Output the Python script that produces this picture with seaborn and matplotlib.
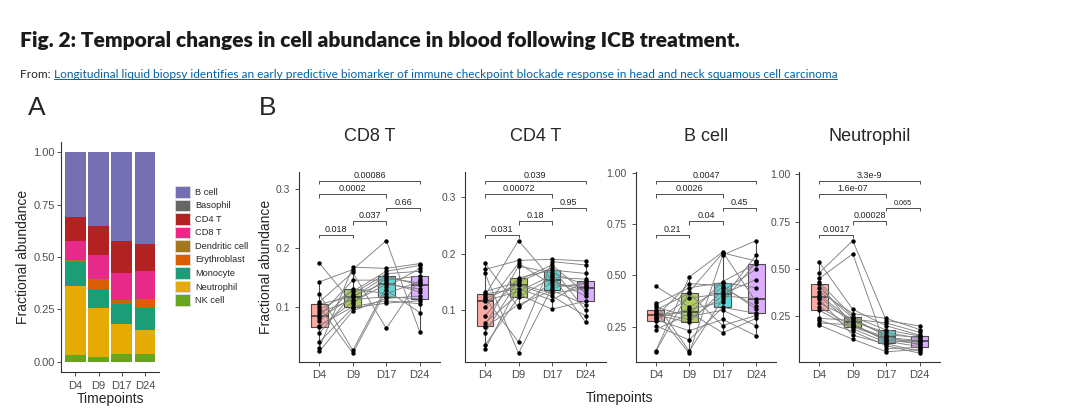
import numpy as np
import pandas as pd
import matplotlib
matplotlib.use("Agg")
import matplotlib.pyplot as plt
from matplotlib import font_manager
from matplotlib.patches import Patch
from matplotlib.lines import Line2D
import seaborn as sns

# ---------------- data ----------------
timepoints = ["D4", "D9", "D17", "D24"]

# Panel A: mean fractional abundance per timepoint
cell_types = ["B cell", "Basophil", "CD4 T", "CD8 T", "Dendritic cell",
              "Erythroblast", "Monocyte", "Neutrophil", "NK cell"]
frac_D4 = [0.308, 0.000, 0.116, 0.091, 0.011, 0.000, 0.114, 0.331, 0.029]
frac_D9 = [0.352, 0.000, 0.139, 0.113, 0.007, 0.043, 0.091, 0.233, 0.022]
frac_D17 = [0.426, 0.000, 0.150, 0.132, 0.007, 0.012, 0.094, 0.144, 0.035]
frac_D24 = [0.440, 0.000, 0.129, 0.131, 0.007, 0.039, 0.102, 0.117, 0.035]
cell_colors = ["#7570B3", "#666666", "#B22222", "#E7298A", "#A6761D",
               "#D95F02", "#1B9E77", "#E6AB02", "#66A61E"]

# Panel B: per-patient values (same patient order in each list)
cd8_D4 = [0.174, 0.142, 0.122, 0.108, 0.104, 0.100, 0.095, 0.090, 0.084, 0.080, 0.075, 0.068, 0.066, 0.055, 0.040, 0.030, 0.024]
cd8_D9 = [0.105, 0.163, 0.026, 0.158, 0.118, 0.021, 0.126, 0.112, 0.145, 0.116, 0.130, 0.100, 0.108, 0.122, 0.098, 0.167, 0.093]
cd8_D17 = [0.149, 0.212, 0.133, 0.063, 0.141, 0.128, 0.160, 0.117, 0.145, 0.152, 0.122, 0.110, 0.138, 0.156, 0.106, 0.165, 0.114]
cd8_D24 = [0.140, 0.057, 0.165, 0.147, 0.125, 0.090, 0.170, 0.113, 0.152, 0.136, 0.143, 0.105, 0.130, 0.160, 0.110, 0.173, 0.118]

cd4_D4 = [0.183, 0.172, 0.165, 0.133, 0.129, 0.126, 0.122, 0.120, 0.117, 0.105, 0.090, 0.078, 0.073, 0.070, 0.060, 0.038, 0.031]
cd4_D9 = [0.105, 0.188, 0.024, 0.150, 0.138, 0.223, 0.044, 0.146, 0.133, 0.183, 0.157, 0.128, 0.178, 0.110, 0.153, 0.123, 0.144]
cd4_D17 = [0.150, 0.190, 0.140, 0.175, 0.118, 0.154, 0.186, 0.130, 0.162, 0.145, 0.171, 0.102, 0.166, 0.135, 0.180, 0.158, 0.125]
cd4_D24 = [0.135, 0.187, 0.148, 0.100, 0.151, 0.125, 0.180, 0.139, 0.079, 0.142, 0.165, 0.116, 0.145, 0.110, 0.130, 0.155, 0.090]

bcell_D4 = [0.448, 0.365, 0.358, 0.345, 0.331, 0.325, 0.318, 0.312, 0.307, 0.298, 0.290, 0.285, 0.279, 0.255, 0.235, 0.130, 0.128]
bcell_D9 = [0.345, 0.130, 0.440, 0.300, 0.413, 0.120, 0.285, 0.320, 0.271, 0.460, 0.335, 0.230, 0.390, 0.185, 0.312, 0.492, 0.420]
bcell_D17 = [0.440, 0.385, 0.465, 0.330, 0.255, 0.600, 0.400, 0.220, 0.425, 0.450, 0.370, 0.285, 0.410, 0.344, 0.470, 0.615, 0.610]
bcell_D24 = [0.350, 0.600, 0.440, 0.255, 0.305, 0.670, 0.387, 0.290, 0.530, 0.335, 0.565, 0.205, 0.480, 0.315, 0.557, 0.370, 0.570]

neut_D4 = [0.535, 0.480, 0.450, 0.430, 0.420, 0.400, 0.380, 0.365, 0.353, 0.340, 0.320, 0.300, 0.283, 0.240, 0.230, 0.215, 0.204]
neut_D9 = [0.287, 0.650, 0.580, 0.248, 0.200, 0.240, 0.265, 0.222, 0.212, 0.150, 0.235, 0.195, 0.185, 0.228, 0.170, 0.205, 0.129]
neut_D17 = [0.200, 0.228, 0.080, 0.178, 0.139, 0.145, 0.239, 0.165, 0.118, 0.105, 0.215, 0.132, 0.111, 0.152, 0.095, 0.125, 0.063]
neut_D24 = [0.150, 0.199, 0.085, 0.146, 0.121, 0.098, 0.180, 0.133, 0.090, 0.065, 0.165, 0.113, 0.127, 0.140, 0.055, 0.105, 0.075]

comparisons = [(0, 1), (1, 2), (2, 3), (0, 2), (0, 3)]
cd8_pvals = ["0.018", "0.037", "0.66", "0.0002", "0.00086"]
cd4_pvals = ["0.031", "0.18", "0.95", "0.00072", "0.039"]
bcell_pvals = ["0.21", "0.04", "0.45", "0.0026", "0.0047"]
neut_pvals = ["0.0017", "0.00028", "0.065", "1.6e-07", "3.3e-9"]

box_colors = ["#F8766D", "#7CAE00", "#00BFC4", "#C77CFF"]

# ---------------- style ----------------
sns.set_style("ticks")
plt.rcParams["font.family"] = ["Liberation Sans", "DejaVu Sans"]
plt.rcParams["axes.linewidth"] = 0.8
plt.rcParams["axes.edgecolor"] = "#333333"
plt.rcParams["xtick.color"] = "#333333"
plt.rcParams["ytick.color"] = "#333333"
plt.rcParams["xtick.labelcolor"] = "#4D4D4D"
plt.rcParams["ytick.labelcolor"] = "#4D4D4D"
plt.rcParams["xtick.major.size"] = 2.8
plt.rcParams["ytick.major.size"] = 2.8
plt.rcParams["xtick.major.width"] = 0.6
plt.rcParams["ytick.major.width"] = 0.6

W, H = 1080, 415
fig = plt.figure(figsize=(W / 100, H / 100), dpi=100)


def ax_px(left, top, width, height):
    return fig.add_axes([left / W, 1 - (top + height) / H, width / W, height / H])


def blend(c, a=0.62):
    rgb = np.array(matplotlib.colors.to_rgb(c))
    return tuple(rgb * a + (1 - a))


box_fills = [blend(c) for c in box_colors]

names = {f.name for f in font_manager.fontManager.ttflist}
if "Liberation Sans Narrow" in names:
    head_family = "Liberation Sans Narrow"
elif "Lato" in names:
    head_family = "Lato"
else:
    head_family = "Liberation Sans"

# ---------------- header ----------------
renderer = fig.canvas.get_renderer()
t_title = fig.text(20 / W, 1 - 41 / H,
                   "Fig. 2: Temporal changes in cell abundance in blood following ICB treatment.",
                   fontsize=14, fontweight="heavy", family=head_family, color="#1A1A1A",
                   ha="left", va="center")
w = t_title.get_window_extent(renderer).width
t_title.set_fontsize(14 * 718 / w)

t_from = fig.text(20 / W, 1 - 75 / H, "From: ", fontsize=9, family=head_family,
                  color="#222222", ha="left", va="center")
link = ("Longitudinal liquid biopsy identifies an early predictive biomarker of immune "
        "checkpoint blockade response in head and neck squamous cell carcinoma")
t_link = fig.text(0, 1 - 75 / H, link, fontsize=9, family=head_family,
                  color="#0A5F9E", ha="left", va="center")
w1 = t_from.get_window_extent(renderer).width
w2 = t_link.get_window_extent(renderer).width
fs = 9 * 823 / (w1 + w2)
t_from.set_fontsize(fs)
t_link.set_fontsize(fs)
w1 = t_from.get_window_extent(renderer).width
t_link.set_x((20 + w1) / W)
bb = t_link.get_window_extent(renderer)
uy = bb.y0 + 0.12 * fs * 100 / 72
fig.add_artist(Line2D([bb.x0 / W, bb.x1 / W], [uy / H, uy / H], transform=fig.transFigure,
                      color="#0A5F9E", lw=0.7))

# ---------------- panel A ----------------
fig.text(37 / W, 1 - 108 / H, "A", fontsize=19, ha="center", va="center")
fig.text(268 / W, 1 - 108 / H, "B", fontsize=19, ha="center", va="center")

axA = ax_px(61.4, 141.7, 97.5, 230.3)
rowsA = []
for i, fr in enumerate([frac_D4, frac_D9, frac_D17, frac_D24]):
    for c, v in zip(cell_types, fr):
        rowsA.append(dict(xi=i, cell=c, frac=v))
dfA = pd.DataFrame(rowsA)
sns.histplot(data=dfA, x="xi", weights="frac", hue="cell", hue_order=cell_types,
             palette=cell_colors, multiple="stack", discrete=True, shrink=0.9,
             alpha=1, linewidth=0, legend=False, ax=axA)
axA.set_xlim(-0.6, 3.6)
axA.set_ylim(-0.05, 1.05)
axA.set_xticks(range(4))
axA.set_xticklabels(timepoints, fontsize=8)
axA.set_yticks([0, 0.25, 0.5, 0.75, 1.0])
axA.set_yticklabels(["0.00", "0.25", "0.50", "0.75", "1.00"], fontsize=8)
axA.tick_params(axis="y", pad=2)
axA.set_xlabel("Timepoints", fontsize=10)
axA.set_ylabel("Fractional abundance", fontsize=10)
axA.yaxis.set_label_coords(-0.318, 0.5)
axA.xaxis.set_label_coords(0.5, -0.085)
sns.despine(ax=axA)

handles = [Patch(facecolor=c, edgecolor="#DDDDDD", linewidth=0.6, label=l)
           for c, l in zip(cell_colors, cell_types)]
fig.legend(handles=handles, loc="upper left",
           bbox_to_anchor=(175 / W, 1 - 186 / H), frameon=False, fontsize=6.7,
           handlelength=1.6, handleheight=1.55, handletextpad=0.55,
           labelspacing=0.2, borderpad=0, borderaxespad=0)


# ---------------- panel B ----------------
def draw_panel(left, title, values, pvals, yticks, yticklabels, ylabel=False, small=()):
    ax = ax_px(left, 171.7, 140.7, 190)
    rows = []
    for t_i, t in enumerate(timepoints):
        for p, v in enumerate(values[t_i]):
            rows.append(dict(tp=t, xi=t_i, patient=p, value=v))
    df = pd.DataFrame(rows)
    sns.boxplot(data=df, x="tp", y="value", hue="tp", order=timepoints,
                hue_order=timepoints, palette=box_fills, saturation=1, width=0.5,
                showfliers=False, linewidth=0.8, linecolor="#4D4D4D",
                legend=False, showcaps=False,
                medianprops=dict(linewidth=1.1, color="#333333"), ax=ax)
    sns.lineplot(data=df, x="xi", y="value", units="patient", estimator=None,
                 color="#808080", linewidth=0.65, legend=False, ax=ax, zorder=3)
    sns.scatterplot(data=df, x="xi", y="value", color="black", s=10, linewidth=0,
                    legend=False, ax=ax, zorder=4)
    vmax, vmin = df.value.max(), df.value.min()
    rng = vmax - vmin
    lo, hi = vmin - 0.075 * rng, vmax + 0.612 * rng
    tip = 0.018 * (hi - lo)
    for k, ((i, j), lab) in enumerate(zip(comparisons, pvals)):
        y = vmax + rng * (0.05 + 0.12 * k)
        ax.plot([i, i, j, j], [y - tip, y, y, y - tip], color="#333333", lw=0.6,
                solid_capstyle="butt", zorder=5)
        ax.text((i + j) / 2, y + 0.006 * (hi - lo), lab, ha="center", va="bottom",
                fontsize=5.2 if lab in small else 6.5, color="#222222")
    ax.set_xlim(-0.6, 3.6)
    ax.set_ylim(lo, hi)
    ax.set_xticks(range(4))
    ax.set_xticklabels(timepoints, fontsize=8)
    ax.set_yticks(yticks)
    ax.set_yticklabels(yticklabels, fontsize=7.5)
    ax.set_xlabel("")
    if ylabel:
        ax.set_ylabel("Fractional abundance", fontsize=10)
        ax.yaxis.set_label_coords(-0.186, 0.5)
    else:
        ax.set_ylabel("")
    ax.text(0.5, 1.183, title, transform=ax.transAxes, ha="center", va="center",
            fontsize=13)
    sns.despine(ax=ax)
    return ax


draw_panel(299.2, "CD8 T", [cd8_D4, cd8_D9, cd8_D17, cd8_D24], cd8_pvals,
           [0.1, 0.2, 0.3], ["0.1", "0.2", "0.3"], ylabel=True)
draw_panel(464.9, "CD4 T", [cd4_D4, cd4_D9, cd4_D17, cd4_D24], cd4_pvals,
           [0.1, 0.2, 0.3], ["0.1", "0.2", "0.3"])
draw_panel(635.6, "B cell", [bcell_D4, bcell_D9, bcell_D17, bcell_D24], bcell_pvals,
           [0.25, 0.5, 0.75, 1.0], ["0.25", "0.50", "0.75", "1.00"])
draw_panel(799.2, "Neutrophil", [neut_D4, neut_D9, neut_D17, neut_D24], neut_pvals,
           [0.25, 0.5, 0.75, 1.0], ["0.25", "0.50", "0.75", "1.00"], small=("0.065",))

fig.text(620 / W, 1 - 398 / H, "Timepoints", fontsize=10, ha="center", va="center")

fig.savefig("out.png", dpi=100)
